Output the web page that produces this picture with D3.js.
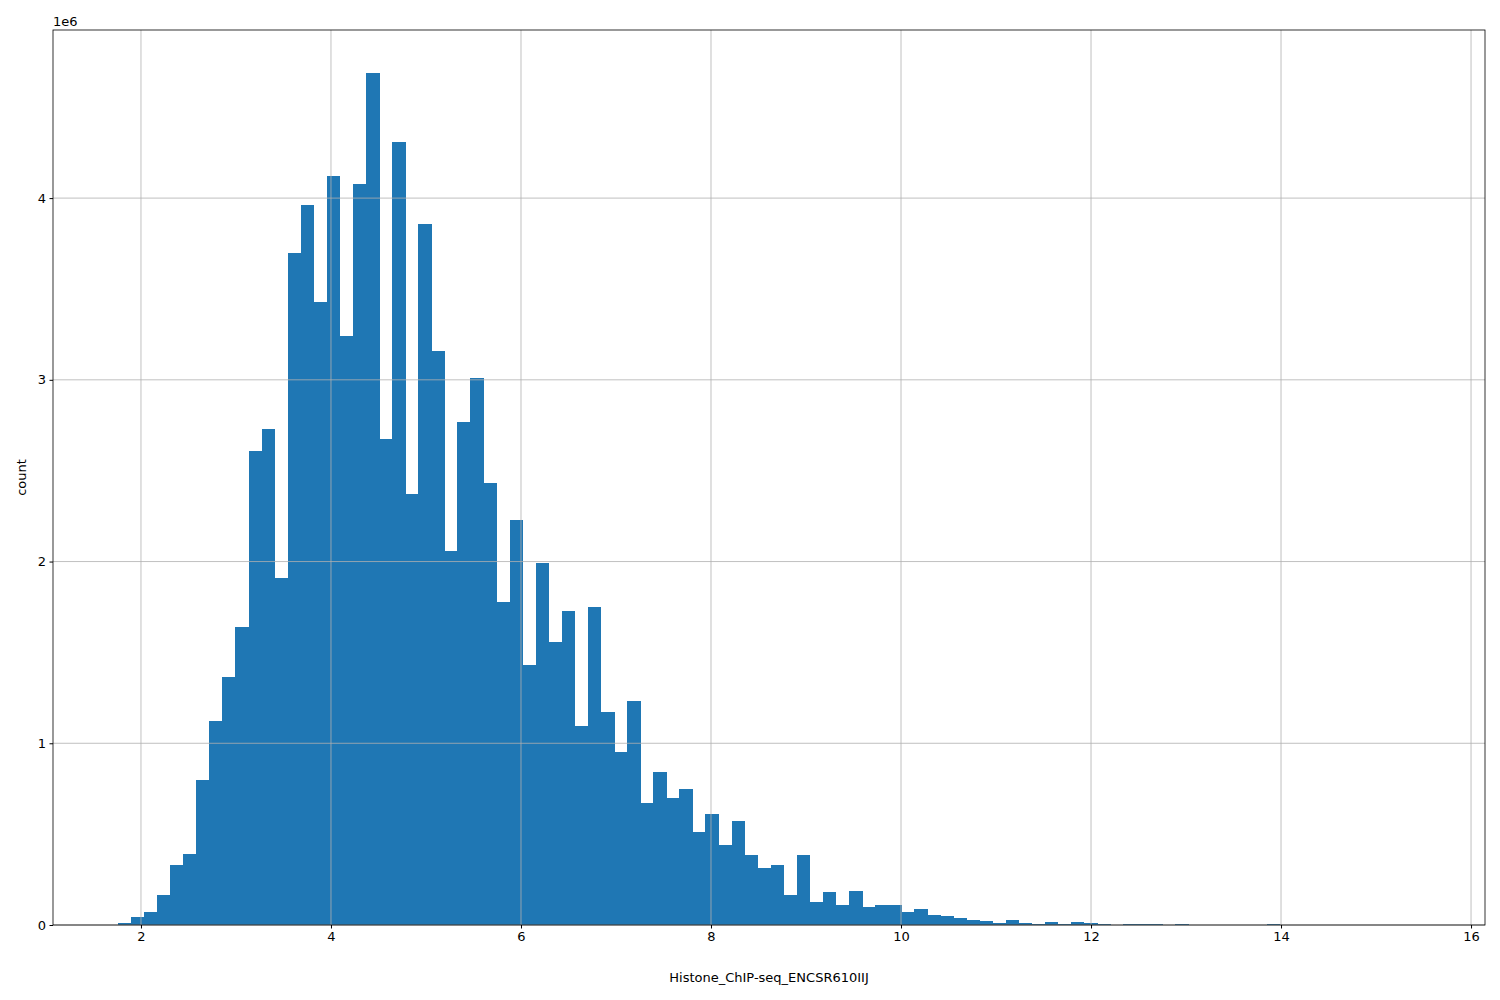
<!DOCTYPE html>
<html><head><meta charset="utf-8">
<script src="https://cdn.jsdelivr.net/npm/d3@7"></script>
<style>body{margin:0;background:#fff}text{font-family:"DejaVu Sans",sans-serif}</style>
</head><body><svg id="c" width="1500" height="1000"></svg>
<script>
const binStart = 1.758, binWidth = 0.1374;
const counts = [0.01,0.045,0.07,0.165,0.33,0.39,0.80,1.12,1.365,1.64,2.61,2.73,1.91,3.70,3.96,3.43,4.12,3.24,4.08,4.69,2.675,4.31,2.37,3.86,3.16,2.06,2.77,3.01,2.43,1.78,2.23,1.43,1.99,1.56,1.73,1.095,1.75,1.17,0.95,1.23,0.67,0.84,0.70,0.75,0.51,0.61,0.44,0.57,0.385,0.315,0.33,0.165,0.385,0.125,0.18,0.11,0.185,0.10,0.11,0.11,0.07,0.09,0.055,0.05,0.04,0.025,0.02,0.012,0.025,0.012,0.006,0.015,0.005,0.015,0.01,0.004,0.002,0.004,0.004,0.003,0.001,0.004,0.002,0.001,0.001,0.001,0.001,0.001,0.004,0.001,0,0,0,0,0,0,0,0,0,0.0005];
const xTicks = [2,4,6,8,10,12,14,16];
const yTicks = [0,1,2,3,4];
const L=53,R=1485,T=30,B=925;
const svg=d3.select("#c");
const x=d3.scaleLinear().domain([1.074,16.147]).range([L,R]);
const y=d3.scaleLinear().domain([0,4.925]).range([B,T]);
svg.append("g").attr("shape-rendering","crispEdges").selectAll("rect").data(counts).join("rect")
 .attr("x",(d,i)=>x(binStart+i*binWidth)).attr("width",(d,i)=>x(binStart+(i+1)*binWidth)-x(binStart+i*binWidth)+0.5)
 .attr("y",d=>y(d)).attr("height",d=>B-y(d)).attr("fill","#1f77b4");
svg.append("g").attr("stroke","#b0b0b0").attr("stroke-width",0.8).selectAll("line").data(xTicks).join("line")
 .attr("x1",d=>x(d)).attr("x2",d=>x(d)).attr("y1",T).attr("y2",B);
svg.append("g").attr("stroke","#b0b0b0").attr("stroke-width",0.8).selectAll("line").data(yTicks).join("line")
 .attr("x1",L).attr("x2",R).attr("y1",d=>y(d)).attr("y2",d=>y(d));
svg.append("g").attr("transform",`translate(0,${B})`).call(d3.axisBottom(x).tickValues(xTicks).tickSize(3.5).tickPadding(3.5).tickFormat(d3.format("d")))
 .call(g=>{g.select(".domain").remove();g.selectAll("text").attr("font-size",13).attr("fill","#000");});
svg.append("g").attr("transform",`translate(${L},0)`).call(d3.axisLeft(y).tickValues(yTicks).tickSize(3.5).tickPadding(3.5).tickFormat(d3.format("d")))
 .call(g=>{g.select(".domain").remove();g.selectAll("text").attr("font-size",13).attr("fill","#000");});
svg.append("rect").attr("x",L).attr("y",T).attr("width",R-L).attr("height",B-T).attr("fill","none").attr("stroke","#000").attr("stroke-width",0.8);
svg.append("text").attr("x",L).attr("y",T-4).attr("font-size",13).text("1e6");
svg.append("text").attr("x",(L+R)/2).attr("y",982).attr("text-anchor","middle").attr("font-size",13).text("Histone_ChIP-seq_ENCSR610IIJ");
svg.append("text").attr("transform",`translate(26,${(T+B)/2}) rotate(-90)`).attr("text-anchor","middle").attr("font-size",13).text("count");
</script></body></html>
